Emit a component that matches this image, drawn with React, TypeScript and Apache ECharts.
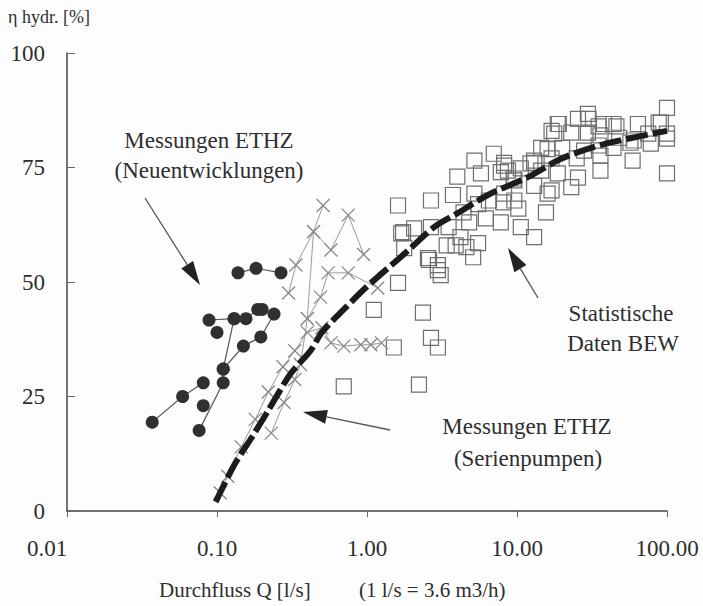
import React, { useEffect, useRef } from "react";
import * as echarts from "echarts";

// ---------- data ----------
const xTickValues = [0.01, 0.1, 1, 10, 100];
const xTickLabels = ["0.01", "0.10", "1.00", "10.00", "100.00"];
const yMin = 0;
const yMax = 100;
const yInterval = 25;

// Statistische Daten BEW (open squares) [Q l/s, eta %]
const bewSquares: [number, number][] = [
  [1.61, 49.8], [1.11, 43.9], [2.36, 43.3], [2.67, 37.8], [2.97, 35.7], [1.51, 35.7],
  [0.7, 27.2], [2.22, 27.6],
  [5.2, 76.5], [8.2, 76], [7.8, 74], [4.0, 73], [9.5, 72.6], [1.61, 66.7], [2.67, 67.8],
  [3.74, 69], [5.2, 69.3], [5.5, 67], [6.5, 67.8], [8.2, 69.3], [8.1, 67.4], [10.2, 66],
  [4.4, 65.2], [6.2, 63.9], [7.8, 63], [4.8, 63], [3.5, 62], [2.67, 62], [2.06, 61.7],
  [1.74, 60.9], [10.6, 62], [4.2, 59.8], [5.5, 58.5], [3.4, 58], [3.9, 58], [4.6, 57.6],
  [1.77, 57.4], [2.55, 55.2], [5.1, 55.4], [2.97, 53.7], [3.1, 51.5],
  [7.0, 78], [13, 76.5], [1.69, 60.6], [2.59, 54.8], [2.97, 52.6],
  [19, 84.5], [25.5, 85.6], [30, 85.6], [38, 84.5], [46, 84], [64, 84.5], [88, 84.8],
  [100, 88], [17.7, 82.4], [23, 82.6], [29.7, 82.6], [36, 82], [48, 81.5], [60, 80.9],
  [75, 82.4], [100, 82.4], [100, 81.3], [16, 79], [20, 79.3], [28, 78.7], [35, 79.8],
  [44, 79.3], [57, 80.4], [78, 80.2], [13, 76], [17, 77], [25, 77], [36, 77.6], [59, 76.5],
  [8.7, 74.3], [10.6, 74.8], [14.5, 74.3], [18.7, 73.7], [25.5, 72.8], [36, 74.3],
  [9.6, 72.2], [13, 71], [17, 70], [23, 70.7], [100, 73.7], [9.6, 67.8],
  [14.5, 79.3], [13, 59.8], [15.6, 65.2], [16, 69.3], [5.75, 73.7], [8.2, 75.4],
  [12.3, 75.9], [17, 83], [18.7, 84.5], [29.7, 86.7], [35, 84], [44, 84.5], [91, 84.8],
];

// Messungen ETHZ (Serienpumpen) – crosses joined by thin lines
const serien1: [number, number][] = [
  [0.105, 4], [0.118, 7.6], [0.145, 14], [0.18, 20], [0.22, 26], [0.275, 31.5], [0.33, 35],
  [0.4, 39], [0.5, 40], [0.575, 36.7], [0.7, 36], [0.91, 36.3], [1.06, 36.3], [1.25, 36.7],
];
const serien2: [number, number][] = [
  [0.23, 17], [0.28, 23.7], [0.33, 28.7], [0.36, 32], [0.4, 42], [0.44, 61], [0.51, 66.7],
];
const serien3: [number, number][] = [
  [0.3, 47.6], [0.336, 53.7], [0.44, 61], [0.575, 57], [0.75, 64.6], [0.95, 56],
];
const serien4: [number, number][] = [
  [0.4, 42], [0.49, 46.7], [0.55, 52], [0.75, 52], [1.18, 48.7],
];

// Trend curve (thick dashed)
const trendCurve: [number, number][] = [
  [0.098, 2], [0.13, 10], [0.17, 16], [0.22, 22], [0.31, 30], [0.42, 35], [0.5, 39],
  [0.7, 44], [1.0, 49], [1.9, 57], [2.8, 62], [4, 65], [6.4, 69], [12, 73], [20, 77],
  [37, 80], [100, 83],
];

// Messungen ETHZ (Neuentwicklungen) – filled circles
const neuA: [number, number][] = [[0.037, 19.4], [0.059, 25], [0.081, 28]];
const neuB: [number, number][] = [[0.076, 17.6], [0.11, 28], [0.11, 31], [0.13, 42]];
const neuC: [number, number][] = [[0.11, 31], [0.15, 36], [0.196, 38], [0.24, 43]];
const neuD: [number, number][] = [[0.0885, 41.7], [0.13, 42], [0.156, 42], [0.187, 44], [0.2, 44]];
const neuE: [number, number][] = [[0.138, 52], [0.182, 53], [0.267, 52]];
const neuLoose: [number, number][] = [[0.1, 39], [0.081, 23]];

const FONT = "Liberation Serif";
const TXT = "#2e2e2e";
const CROSS = "path://M0,0L10,10M10,0L0,10";

function arrow(tx: number, ty: number, hx: number, hy: number) {
  const dx = hx - tx;
  const dy = hy - ty;
  const len = Math.sqrt(dx * dx + dy * dy);
  const ux = dx / len;
  const uy = dy / len;
  const hl = 24;
  const hw = 7;
  const bx = hx - ux * hl;
  const by = hy - uy * hl;
  return [
    {
      type: "line",
      shape: { x1: tx, y1: ty, x2: bx, y2: by },
      style: { stroke: "#555", lineWidth: 1.3 },
    },
    {
      type: "polygon",
      shape: {
        points: [
          [hx, hy],
          [bx - uy * hw, by + ux * hw],
          [bx + uy * hw, by - ux * hw],
        ],
      },
      style: { fill: "#222" },
    },
  ];
}

function txt(x: number, y: number, text: string, size: number, align = "center") {
  return {
    type: "text",
    x,
    y,
    style: {
      text,
      fontFamily: FONT,
      fontSize: size,
      fill: TXT,
      align,
      verticalAlign: "middle",
    },
  };
}

export default function App() {
  const ref = useRef<HTMLDivElement>(null);
  useEffect(() => {
    if (!ref.current) return;
    const chart = echarts.init(ref.current, null, { renderer: "svg" });

    const serienSeries = [serien1, serien2, serien3, serien4].map((d) => ({
      type: "line",
      data: d,
      symbol: CROSS,
      symbolSize: 13,
      showAllSymbol: true,
      lineStyle: { color: "#9a9a9a", width: 1 },
      itemStyle: { color: "#888", borderColor: "#888", borderWidth: 1.3 },
      z: 3,
    }));
    const neuSeries = [neuA, neuB, neuC, neuD, neuE].map((d) => ({
      type: "line",
      data: d,
      symbol: "circle",
      symbolSize: 13,
      showAllSymbol: true,
      lineStyle: { color: "#555", width: 1.2 },
      itemStyle: { color: "#303030", opacity: 1 },
      z: 5,
    }));

    chart.setOption({
      animation: false,
      backgroundColor: "#fdfdfd",
      textStyle: { fontFamily: FONT },
      grid: { left: 67, right: 36, top: 53, bottom: 95, containLabel: false, outerBoundsMode: "none" },
      xAxis: {
        type: "log",
        logBase: 10,
        min: xTickValues[0],
        max: xTickValues[xTickValues.length - 1],
        axisLine: { lineStyle: { color: "#444", width: 1.5 } },
        axisTick: { show: true, length: 6, lineStyle: { color: "#666" } },
        splitLine: { show: false },
        axisLabel: {
          color: TXT,
          fontFamily: FONT,
          fontSize: 23,
          margin: 26,
          formatter: (v: number) => {
            const i = Math.round(Math.log10(v)) + 2;
            const s = xTickLabels[i] ?? "";
            return i === 0 ? "{a|" + s + "}" : s;
          },
          rich: {
            a: { fontFamily: FONT, fontSize: 23, color: TXT, padding: [0, 40, 0, 0] },
          },
        },
      },
      yAxis: {
        type: "value",
        min: yMin,
        max: yMax,
        interval: yInterval,
        axisLine: { show: true, lineStyle: { color: "#444", width: 1.5 } },
        axisTick: { show: true, inside: true, length: 8, lineStyle: { color: "#666" } },
        splitLine: { show: false },
        axisLabel: { color: TXT, fontFamily: FONT, fontSize: 23, margin: 22 },
      },
      graphic: [
        txt(8, 17, "η hydr. [%]", 18, "left"),
        txt(159, 590, "Durchfluss Q [l/s]", 21, "left"),
        txt(359, 590, "(1 l/s = 3.6 m3/h)", 21, "left"),
        txt(209, 140, "Messungen ETHZ", 23),
        txt(209, 170, "(Neuentwicklungen)", 23),
        txt(621, 313, "Statistische", 23),
        txt(623, 343, "Daten BEW", 23),
        txt(527, 426, "Messungen ETHZ", 23),
        txt(528, 458, "(Serienpumpen)", 23),
        ...arrow(145, 198, 200, 285),
        ...arrow(538, 298, 508, 248),
        ...arrow(390, 430, 303, 412),
      ],
      series: [
        {
          type: "scatter",
          data: bewSquares,
          symbol: "rect",
          symbolSize: 15,
          itemStyle: { color: "rgba(255,255,255,0)", borderColor: "#6f6f6f", borderWidth: 1.2, opacity: 1 },
          z: 2,
        },
        ...serienSeries,
        {
          type: "line",
          data: trendCurve,
          symbol: "none",
          smooth: 0.3,
          lineStyle: { color: "#1c1c1c", width: 6, type: [22, 5] },
          z: 4,
        },
        ...neuSeries,
        {
          type: "scatter",
          data: neuLoose,
          symbol: "circle",
          symbolSize: 13,
          itemStyle: { color: "#303030", opacity: 1 },
          z: 5,
        },
      ],
    });
    return () => chart.dispose();
  }, []);
  return (
    <div
      ref={ref}
      style={{ position: "fixed", left: 0, top: 0, width: 703, height: 606 }}
    />
  );
}
